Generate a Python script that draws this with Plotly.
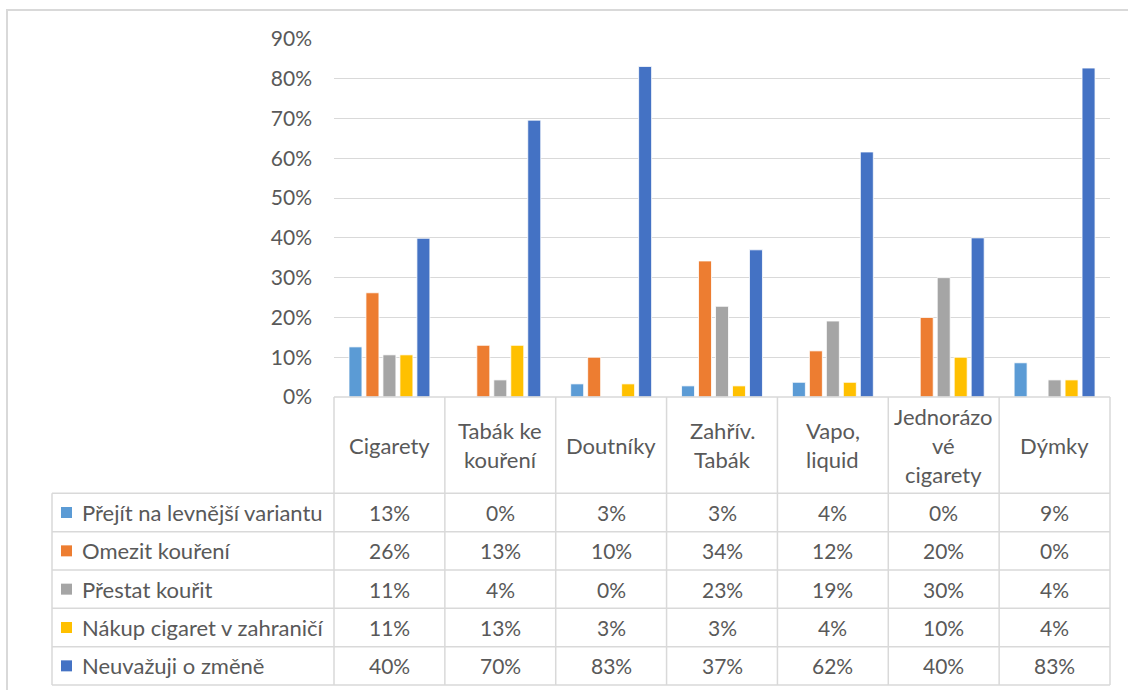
import plotly.graph_objects as go

categories = ["Cigarety", "Tabák ke<br>kouření", "Doutníky", "Zahřív.<br>Tabák",
              "Vapo,<br>liquid", "Jednorázo<br>vé<br>cigarety", "Dýmky"]
series_names = ["Přejít na levnější variantu", "Omezit kouření", "Přestat kouřit",
                "Nákup cigaret v zahraničí", "Neuvažuji o změně"]
prejit = [12.6, 0.0, 3.3, 2.8, 3.7, 0.0, 8.6]
omezit = [26.2, 13.0, 10.0, 34.2, 11.6, 20.0, 0.0]
prestat = [10.6, 4.3, 0.0, 22.8, 19.1, 30.0, 4.3]
nakup = [10.6, 13.0, 3.3, 2.8, 3.7, 10.0, 4.3]
neuvazuji = [39.9, 69.6, 83.1, 37.0, 61.6, 40.0, 82.7]
y_ticks = [0, 10, 20, 30, 40, 50, 60, 70, 80, 90]

series_values = [prejit, omezit, prestat, nakup, neuvazuji]
colors = ["#5B9BD5", "#ED7D31", "#A5A5A5", "#FFC000", "#4472C4"]

W, H = 1128, 690
FONT = "Lato"
FS_NUM = 21
FS_TXT = 22
TXT = "#595959"
GRID = "#D9D9D9"

# pixel geometry
PX_L, PX_R = 334, 1110
PY_TOP, PY_BOT = 39, 397
ROWS = [493.3, 531.7, 570.0, 608.3, 646.7, 685.0]
LEG_L = 52


def px(x):
    return x / W


def py(y):
    return 1 - y / H


fig = go.Figure()
xs = list(range(len(categories)))
for name, vals, col in zip(series_names, series_values, colors):
    fig.add_trace(go.Bar(
        x=xs, y=[v / 100 for v in vals], name=name,
        marker=dict(color=col, line=dict(color="white", width=0.8)),
        showlegend=False,
    ))

shapes = []
ncat = len(categories)
colw = (PX_R - PX_L) / ncat
line = dict(color=GRID, width=1.5)

# outer chart border (top/left visible)
shapes.append(dict(type="rect", xref="paper", yref="paper",
                   x0=px(7), x1=px(1140), y0=py(10), y1=py(700),
                   line=dict(color=GRID, width=2)))
# horizontal table lines
for r in ROWS:
    shapes.append(dict(type="line", xref="paper", yref="paper",
                       x0=px(LEG_L), x1=px(PX_R), y0=py(r), y1=py(r), line=line))
# axis / header top line
shapes.append(dict(type="line", xref="paper", yref="paper",
                   x0=px(PX_L), x1=px(PX_R), y0=py(PY_BOT), y1=py(PY_BOT), line=line))
# vertical lines
shapes.append(dict(type="line", xref="paper", yref="paper",
                   x0=px(LEG_L), x1=px(LEG_L), y0=py(ROWS[0]), y1=py(ROWS[-1]), line=line))
for i in range(ncat + 1):
    xb = PX_L + i * colw
    shapes.append(dict(type="line", xref="paper", yref="paper",
                       x0=px(xb), x1=px(xb), y0=py(PY_BOT), y1=py(ROWS[-1]), line=line))

annotations = []
font_txt = dict(family=FONT, size=FS_TXT, color=TXT)
font_num = dict(family=FONT, size=FS_NUM, color=TXT)
# header
hdr_c = (PY_BOT + ROWS[0]) / 2
for i, cat in enumerate(categories):
    parts = cat.split("<br>")
    n = len(parts)
    for k, p in enumerate(parts):
        yy = hdr_c + (k - (n - 1) / 2) * 29
        annotations.append(dict(x=px(PX_L + (i + 0.5) * colw), y=py(yy), xref="paper", yref="paper",
                                text=p, showarrow=False, font=font_txt,
                                xanchor="center", yanchor="middle"))
# rows
for j, (name, vals, col) in enumerate(zip(series_names, series_values, colors)):
    rc = (ROWS[j] + ROWS[j + 1]) / 2
    shapes.append(dict(type="rect", xref="paper", yref="paper",
                       x0=px(61), x1=px(72), y0=py(rc - 5.5), y1=py(rc + 5.5),
                       fillcolor=col, line=dict(width=0)))
    annotations.append(dict(x=px(80), y=py(rc), xref="paper", yref="paper",
                            text=name, showarrow=False, font=font_txt,
                            xanchor="left", yanchor="middle"))
    for i, v in enumerate(vals):
        annotations.append(dict(x=px(PX_L + (i + 0.5) * colw), y=py(rc), xref="paper", yref="paper",
                                text=f"{int(v + 0.5)}%", showarrow=False, font=font_num,
                                xanchor="center", yanchor="middle"))

fig.update_layout(
    width=W, height=H, autosize=False,
    margin=dict(l=0, r=0, t=0, b=0),
    paper_bgcolor="white", plot_bgcolor="white",
    barmode="group", bargap=0.234, bargroupgap=0.235,
    font=dict(family=FONT, size=FS_NUM, color=TXT),
    shapes=shapes, annotations=annotations,
    xaxis=dict(domain=[px(PX_L), px(PX_R)], range=[-0.5, ncat - 0.5],
               showticklabels=False, showgrid=False, zeroline=False,
               showline=False, ticks=""),
    yaxis=dict(domain=[py(PY_BOT), py(PY_TOP)], range=[0, 0.9],
               tickvals=[t / 100 for t in y_ticks], ticktext=[f"{t}%" for t in y_ticks],
               showgrid=True, gridcolor=GRID, gridwidth=1.3,
               zeroline=False, showline=False, ticks="",
               ticklabelstandoff=21, automargin=False,
               tickfont=dict(family=FONT, size=FS_NUM, color=TXT)),
)

fig.write_html("out.html")
